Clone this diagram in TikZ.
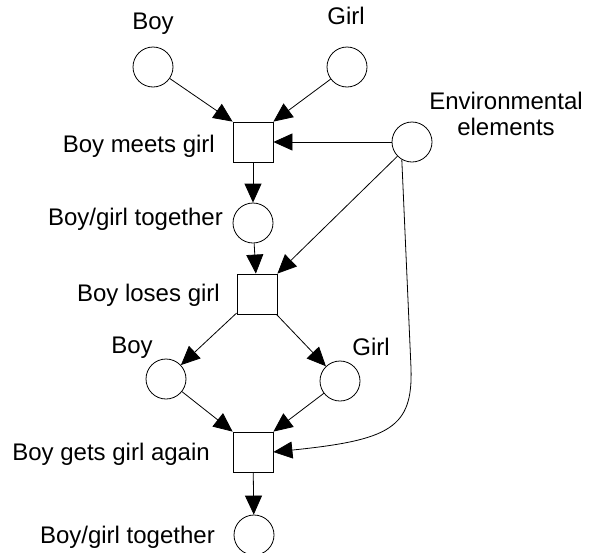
\documentclass[tikz,border=0pt]{standalone}
\usepackage{fontspec}
\setmainfont{Liberation Sans}
\usetikzlibrary{arrows.meta}
\definecolor{ink}{HTML}{000000}

\begin{document}
\begin{tikzpicture}[x=1pt, y=-1pt, font=\fontsize{24}{26}\selectfont, text=ink,
    place/.style={circle, draw=ink, line width=0.8pt, minimum size=40pt, inner sep=0pt},
    trans/.style={rectangle, draw=ink, line width=0.8pt, minimum size=40pt, inner sep=0pt},
    lab/.style={inner sep=0pt},
    arc/.style={-{Triangle[length=19pt,width=17pt]}, line width=0.8pt, draw=ink}]
  % canvas
  \useasboundingbox (0,0) rectangle (592,552);

  % ---------------- places and transitions
  \node[place] (boyA) at (153,67) {};
  \node[place] (girlA) at (347,67) {};
  \node[trans] (meets) at (253,142) {};
  \node[place] (env) at (412,142) {};
  \node[place] (togA) at (253,223) {};
  \node[trans] (loses) at (257,294) {};
  \node[place] (boyB) at (166,379) {};
  \node[place] (girlB) at (340,381) {};
  \node[trans] (again) at (253,452) {};
  \node[place] (togB) at (254,535) {};

  % ---------------- labels
  \node[lab, anchor=base] (lBoyA) at (153,29) {Boy};
  \node[lab, anchor=base] (lGirlA) at (346,24) {Girl};
  \node[lab, align=center] (lEnv) at (506,114) {Environmental\\elements};
  \node[lab, anchor=base east] (lMeets) at (215,152) {Boy meets girl};
  \node[lab, anchor=base east] (lTogA) at (223,225) {Boy/girl together};
  \node[lab, anchor=base east] (lLoses) at (220,301) {Boy loses girl};
  \node[lab, anchor=base] (lBoyB) at (132,353) {Boy};
  \node[lab, anchor=base] (lGirlB) at (371,355) {Girl};
  \node[lab, anchor=base east] (lAgain) at (210,460) {Boy gets girl again};
  \node[lab, anchor=base east] (lTogB) at (215,543) {Boy/girl together};

  % ---------------- arcs
  \draw[arc] (boyA) -- (meets.north west);
  \draw[arc] (girlA) -- (meets.north east);
  \draw[arc] (env) -- (meets);
  \draw[arc] (meets) -- (togA);
  \draw[arc] (togA) -- (loses);
  \draw[arc] (env) -- (loses.north east);
  \draw[arc] (loses) -- (boyB);
  \draw[arc] (loses) -- (girlB);
  \draw[arc] (boyB) -- (again.north west);
  \draw[arc] (girlB) -- (again.north east);
  \coordinate (bend) at (411,368);
  \draw[arc] (env.240) -- (bend) .. controls (413,428) and (390,440) .. (again.east);
  \draw[arc] (again) -- (togB);
\end{tikzpicture}
\end{document}
